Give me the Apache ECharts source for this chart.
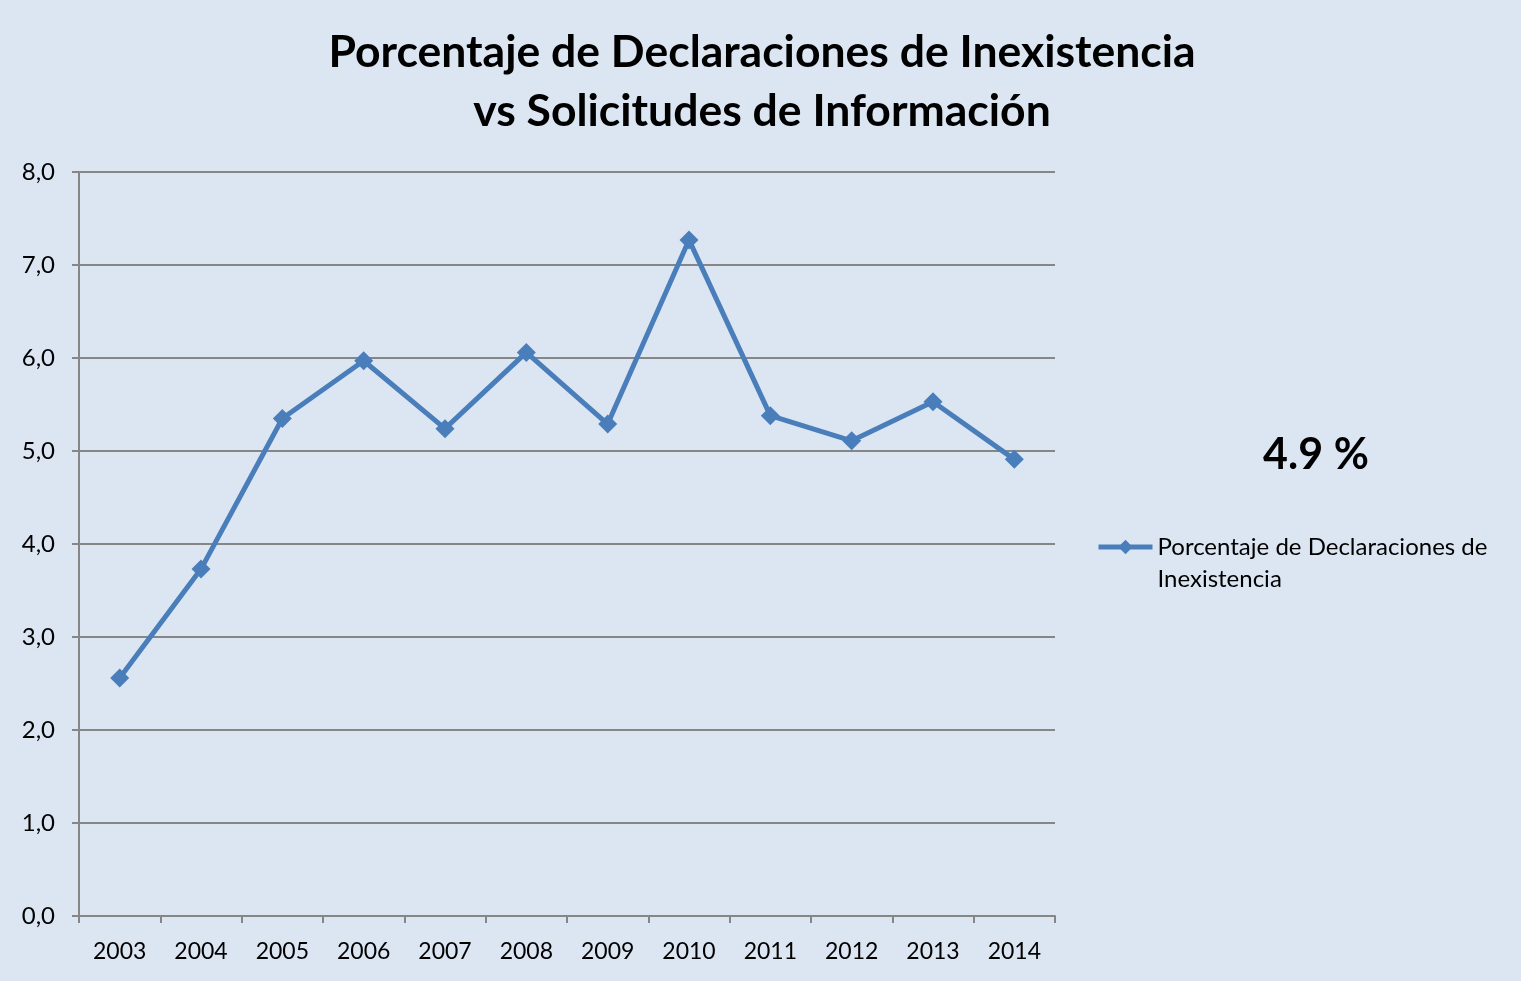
<!DOCTYPE html>
<html><head><meta charset="utf-8">
<script src="https://cdn.jsdelivr.net/npm/echarts@6/dist/echarts.min.js"></script>
<style>html,body{margin:0;padding:0;background:#DCE6F2}#c{width:1521px;height:981px}</style>
</head><body><div id="c"></div>
<script>
const years = ['2003','2004','2005','2006','2007','2008','2009','2010','2011','2012','2013','2014'];
const values = [2.56, 3.73, 5.35, 5.97, 5.24, 6.06, 5.29, 7.27, 5.38, 5.11, 5.53, 4.91];
const seriesName = 'Porcentaje de Declaraciones de Inexistencia';
const legendLines = ['Porcentaje de Declaraciones de', 'Inexistencia'];
const titleLines = ['Porcentaje de Declaraciones de Inexistencia', 'vs Solicitudes de Información'];
const annotation = '4.9 %';

const font = 'Lato, "Open Sans", sans-serif';
const chart = echarts.init(document.getElementById('c'));
chart.setOption({
  backgroundColor: '#DCE6F2',
  animation: false,
  title: {
    text: titleLines.join('\n'),
    left: 757, top: 18, textAlign: 'center',
    textStyle: { fontFamily: font, fontWeight: 'bold', fontSize: 44.5, lineHeight: 59, color: '#000' }
  },
  grid: { left: 79, right: 466, top: 172, bottom: 65 },
  xAxis: {
    type: 'category', data: years, boundaryGap: true,
    axisLine: { lineStyle: { color: '#868686', width: 2 } },
    axisTick: { show: true, length: 7, lineStyle: { color: '#868686', width: 2 } },
    axisLabel: { fontFamily: font, fontSize: 23, color: '#000', margin: 24 }
  },
  yAxis: {
    type: 'value', min: 0, max: 8, interval: 1,
    axisLine: { show: true, lineStyle: { color: '#868686', width: 2 } },
    axisTick: { show: true, length: 7, lineStyle: { color: '#868686', width: 2 } },
    splitLine: { lineStyle: { color: '#868686', width: 2 } },
    axisLabel: { fontFamily: font, fontSize: 24, color: '#000', margin: 24,
      formatter: v => v.toFixed(1).replace('.', ',') }
  },
  legend: {
    data: [seriesName], orient: 'vertical', left: 1096, top: 499, padding: 0,
    itemWidth: 54, itemHeight: 18, itemGap: 0,
    lineStyle: { width: 5 },
    formatter: () => '\n' + legendLines.join('\n'),
    textStyle: { fontFamily: font, fontSize: 24, color: '#000', lineHeight: 32 }
  },
  graphic: [{
    type: 'text', x: 1316, y: 455,
    style: { text: annotation, font: 'bold 43px ' + font, fill: '#000', align: 'center', verticalAlign: 'middle' }
  }],
  series: [{
    name: seriesName, type: 'line', data: values,
    lineStyle: { color: '#4A7EBB', width: 5 },
    itemStyle: { color: '#4A7EBB' },
    symbol: 'diamond', symbolSize: 19
  }]
});
</script></body></html>
